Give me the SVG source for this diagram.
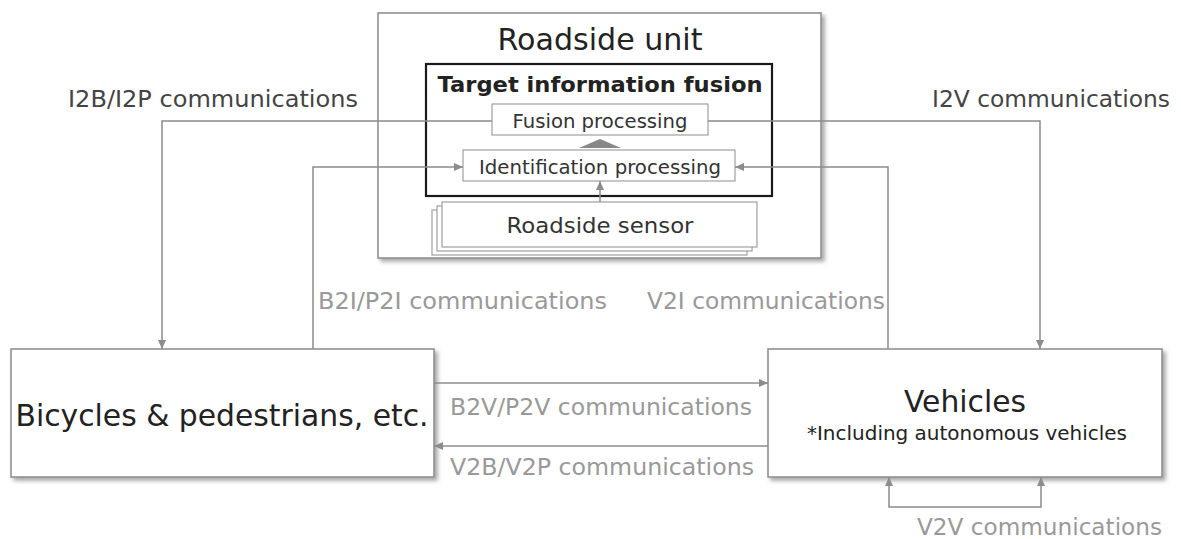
<svg xmlns="http://www.w3.org/2000/svg" width="1181" height="539" viewBox="0 0 1181 539">
<defs>
<style>
text{font-family:"DejaVu Sans","Liberation Sans",sans-serif;}
.box{fill:#fff;stroke:#8a8a8a;stroke-width:1.5;}
.sub{fill:#fff;stroke:#a0a0a0;stroke-width:1.2;}
.node{fill:#222;}
.lbl{fill:#999;font-size:23px;}
.lbl2{fill:#444;font-size:23px;}
.con{fill:none;stroke:#8c8c8c;stroke-width:1.5;}
</style>
<filter id="sh" x="-5%" y="-5%" width="115%" height="125%">
<feDropShadow dx="3" dy="3" stdDeviation="2" flood-color="#000" flood-opacity="0.35"/>
</filter>
<marker id="arr" markerUnits="userSpaceOnUse" markerWidth="9" markerHeight="8" refX="9" refY="4" orient="auto-start-reverse">
<path d="M0,0 L9,4 L0,8 z" fill="#8c8c8c"/>
</marker>
</defs>

<g id="roadside-unit">
<rect class="box" x="378" y="13" width="443" height="245" filter="url(#sh)"/>
<text class="node" x="600" y="50" font-size="30" text-anchor="middle" textLength="205" lengthAdjust="spacingAndGlyphs">Roadside unit</text>
</g>

<g id="target-information-fusion">
<rect x="426" y="64" width="346" height="132" fill="#fff" stroke="#1a1a1a" stroke-width="2.2"/>
<text class="node" x="600" y="92" font-size="22" font-weight="bold" text-anchor="middle" textLength="325" lengthAdjust="spacingAndGlyphs">Target information fusion</text>
</g>

<g id="fusion-processing">
<rect class="sub" x="492" y="104" width="216" height="31"/>
<text x="600" y="128" font-size="19" fill="#333" text-anchor="middle" textLength="175" lengthAdjust="spacingAndGlyphs">Fusion processing</text>
</g>

<g id="identification-processing">
<rect class="sub" x="463" y="150" width="272" height="31"/>
<text x="600" y="174" font-size="19.5" fill="#333" text-anchor="middle" textLength="242" lengthAdjust="spacingAndGlyphs">Identification processing</text>
</g>

<g id="roadside-sensor">
<rect class="sub" x="432" y="210" width="315" height="45"/>
<rect class="sub" x="437" y="206" width="315" height="45"/>
<rect class="sub" x="442" y="202" width="315" height="45"/>
<text x="600" y="233" font-size="22" fill="#333" text-anchor="middle" textLength="187" lengthAdjust="spacingAndGlyphs">Roadside sensor</text>
</g>

<g id="bicycles-pedestrians">
<rect class="box" x="11" y="349" width="423" height="128" filter="url(#sh)"/>
<text class="node" x="222" y="426" font-size="30" text-anchor="middle" textLength="413" lengthAdjust="spacingAndGlyphs">Bicycles &amp; pedestrians, etc.</text>
</g>

<g id="vehicles">
<rect class="box" x="768" y="349" width="394" height="128" filter="url(#sh)"/>
<text class="node" x="965" y="412" font-size="30" text-anchor="middle" textLength="122" lengthAdjust="spacingAndGlyphs">Vehicles</text>
<text class="node" x="967" y="440" font-size="19.5" text-anchor="middle" textLength="320" lengthAdjust="spacingAndGlyphs">*Including autonomous vehicles</text>
</g>

<g id="connectors">
<path class="con" d="M492,121 H162 V349" marker-end="url(#arr)"/>
<path class="con" d="M708,121 H1040 V349" marker-end="url(#arr)"/>
<path class="con" d="M313,349 V167 H463" marker-end="url(#arr)"/>
<path class="con" d="M888,349 V167 H735" marker-end="url(#arr)"/>
<path class="con" d="M600,202 V181" marker-end="url(#arr)"/>
<polygon points="579,148 621,148 600,139" fill="#888"/>
<path class="con" d="M434,383 H768" marker-end="url(#arr)"/>
<path class="con" d="M768,446 H434" marker-end="url(#arr)"/>
<path class="con" d="M889,477 V507 H1041 V477" marker-start="url(#arr)" marker-end="url(#arr)"/>
<text class="lbl2" x="68" y="107" textLength="290" lengthAdjust="spacingAndGlyphs">I2B/I2P communications</text>
<text class="lbl2" x="932" y="107" textLength="238" lengthAdjust="spacingAndGlyphs">I2V communications</text>
<text class="lbl" x="318" y="309" textLength="289" lengthAdjust="spacingAndGlyphs">B2I/P2I communications</text>
<text class="lbl" x="647" y="309" textLength="238" lengthAdjust="spacingAndGlyphs">V2I communications</text>
<text class="lbl" x="450" y="415" textLength="302" lengthAdjust="spacingAndGlyphs">B2V/P2V communications</text>
<text class="lbl" x="450" y="475" textLength="304" lengthAdjust="spacingAndGlyphs">V2B/V2P communications</text>
<text class="lbl" x="917" y="535" textLength="245" lengthAdjust="spacingAndGlyphs">V2V communications</text>
</g>
</svg>
